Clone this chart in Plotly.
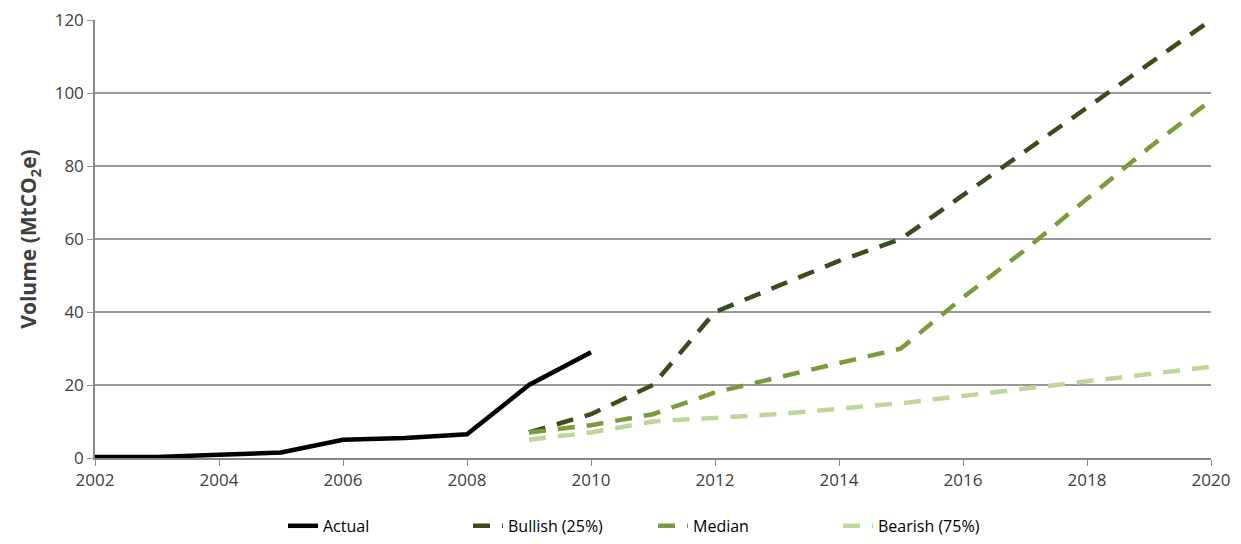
import plotly.graph_objects as go

actual_years = [2002, 2003, 2004, 2005, 2006, 2007, 2008, 2009, 2010]
actual_vals = [0.3, 0.3, 0.9, 1.5, 5.0, 5.5, 6.5, 20.0, 29.0]

proj_years = [2009, 2010, 2011, 2012, 2013, 2014, 2015, 2016, 2017, 2018, 2019, 2020]
bullish_vals = [7, 12, 20, 40, 47, 54, 60, 72, 84, 96, 108, 120]
median_vals = [7, 9, 12, 18, 22, 26, 30, 44, 57, 71, 85, 98]
bearish_vals = [5, 7, 10, 11, 12, 13.5, 15, 17, 19, 21, 23, 25]

colors = {
    'actual': '#000000',
    'bullish': '#3B4D1E',
    'median': '#7B9B3C',
    'bearish': '#BFD59A',
}

fig = go.Figure()
fig.add_trace(go.Scatter(x=actual_years, y=actual_vals, mode='lines', name='Actual',
                         line=dict(color=colors['actual'], width=4.5)))
fig.add_trace(go.Scatter(x=proj_years, y=bullish_vals, mode='lines', name='Bullish (25%)',
                         line=dict(color=colors['bullish'], width=4.5, dash='17px,12px')))
fig.add_trace(go.Scatter(x=proj_years, y=median_vals, mode='lines', name='Median',
                         line=dict(color=colors['median'], width=4.5, dash='17px,12px')))
fig.add_trace(go.Scatter(x=proj_years, y=bearish_vals, mode='lines', name='Bearish (75%)',
                         line=dict(color=colors['bearish'], width=4.5, dash='17px,12px')))

# page body has an 8px margin, so margins are offset to land the plot area where the reference has it
fig.update_layout(
    autosize=True,
    margin=dict(l=87, r=22, t=12, b=78, autoexpand=False),
    plot_bgcolor='white', paper_bgcolor='white',
    font=dict(family='Open Sans, sans-serif', size=17, color='#404040'),
    legend=dict(orientation='h', x=0.5, xanchor='center', y=-0.155, yanchor='middle',
                font=dict(size=16, color='#000000'), entrywidth=140, tracegroupgap=0),
)
fig.update_xaxes(range=[2002, 2020], dtick=2, tick0=2002, showgrid=False,
                 showline=True, linecolor='#888888', linewidth=1.5,
                 ticks='outside', ticklen=6, tickcolor='#888888', zeroline=False,
                 ticklabeloverflow='allow')
fig.update_yaxes(range=[0, 120], dtick=20, showgrid=True, gridcolor='#999999', gridwidth=1.5,
                 showline=True, linecolor='#888888', linewidth=1.5,
                 ticks='outside', ticklen=6, tickcolor='#999999', zeroline=False,
                 ticklabeloverflow='allow',
                 title=dict(text='<b>Volume (MtCO<sub>2</sub>e)</b>', font=dict(size=21, color='#404040'),
                            standoff=12))

fig.write_html("out.html")
